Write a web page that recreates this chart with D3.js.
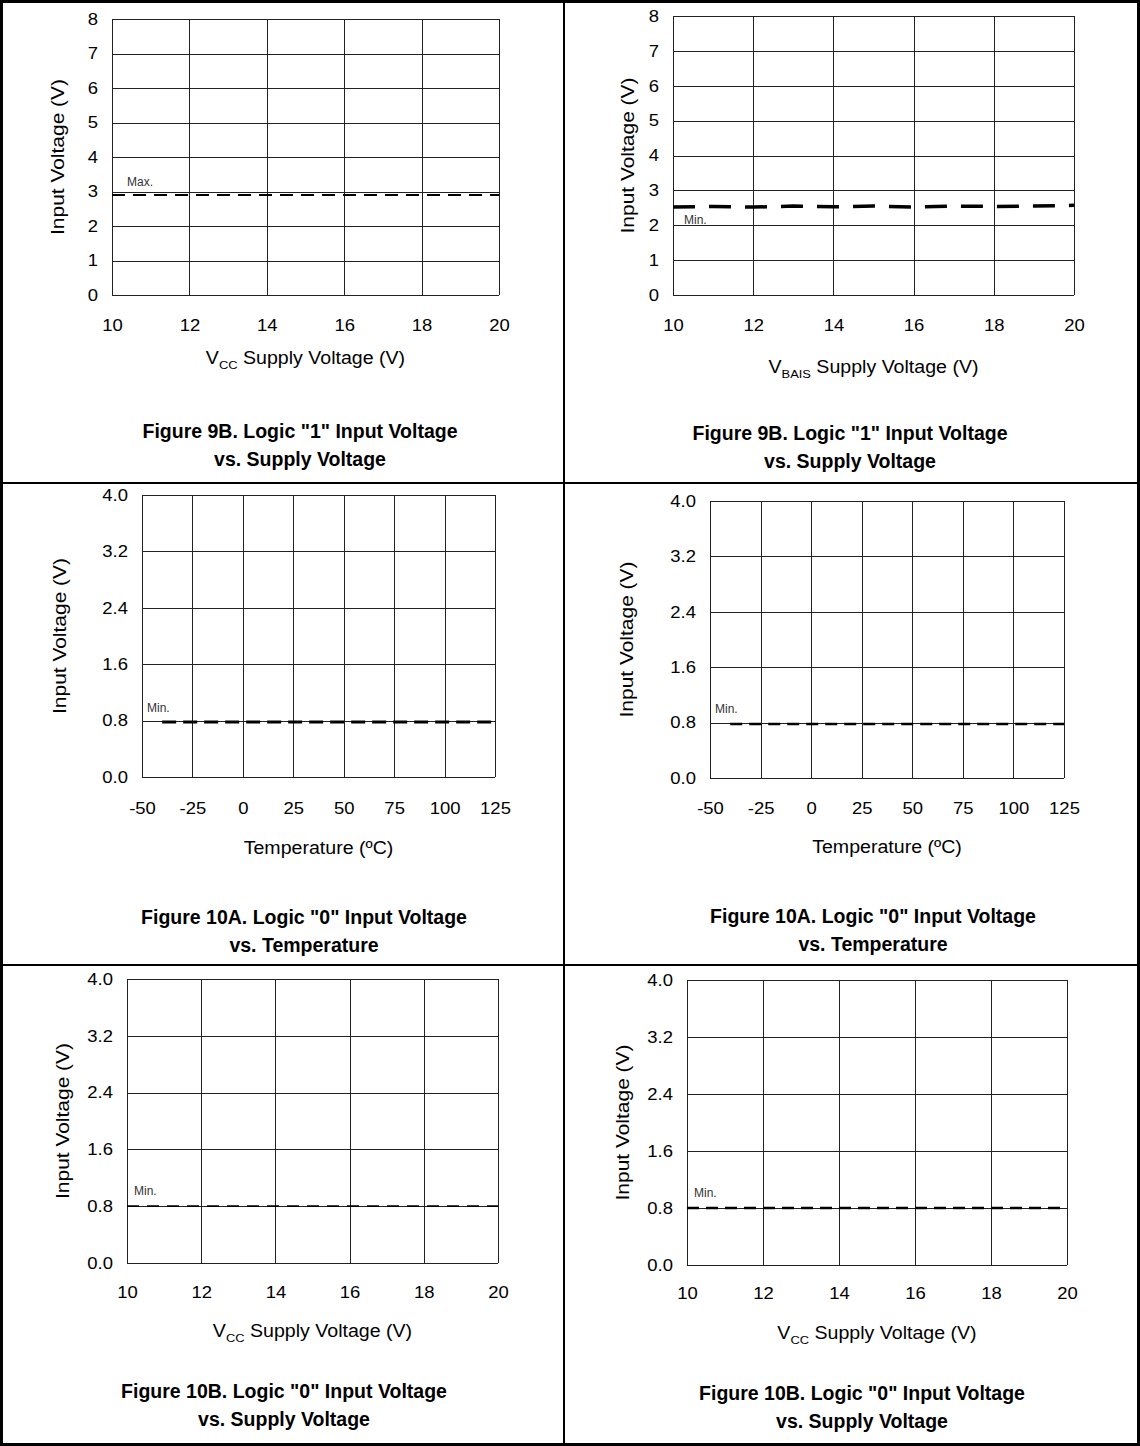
<!DOCTYPE html>
<html>
<head>
<meta charset="utf-8">
<script src="https://cdn.jsdelivr.net/npm/d3@7"></script>
<style>
  html, body { margin: 0; padding: 0; background: #fff; }
  svg { display: block; }
</style>
</head>
<body>
<svg id="chart" width="1140" height="1446"></svg>
<script>
// ---------- data ----------
const yTicks8 = [0, 1, 2, 3, 4, 5, 6, 7, 8];
const yTicks4 = [0, 0.8, 1.6, 2.4, 3.2, 4.0];
const xTicksSupply = [10, 12, 14, 16, 18, 20];
const xTicksTemp = [-50, -25, 0, 25, 50, 75, 100, 125];

// Figure 9B (left) : Logic "1" max vs VCC
const fig9BLeftX = [10, 12, 14, 16, 18, 20];
const fig9BLeftY = [2.9, 2.9, 2.9, 2.9, 2.9, 2.9];
// Figure 9B (right) : Logic "1" min vs VBAIS
const fig9BRightX = [10, 11, 12, 13, 14, 15, 16, 17, 18, 19, 20];
const fig9BRightY = [2.52, 2.54, 2.52, 2.55, 2.53, 2.55, 2.52, 2.55, 2.54, 2.55, 2.57];
// Figure 10A : Logic "0" min vs temperature
const fig10ALeftX = [-40, -25, 0, 25, 50, 75, 100, 125];
const fig10ALeftY = [0.78, 0.78, 0.78, 0.78, 0.78, 0.78, 0.78, 0.78];
const fig10ARightX = [-40, -25, 0, 25, 50, 75, 100, 125];
const fig10ARightY = [0.78, 0.78, 0.78, 0.78, 0.78, 0.78, 0.78, 0.78];
// Figure 10B : Logic "0" min vs VCC
const fig10BLeftX = [10, 12, 14, 16, 18, 20];
const fig10BLeftY = [0.8, 0.8, 0.8, 0.8, 0.8, 0.8];
const fig10BRightX = [10, 12, 14, 16, 18, 20];
const fig10BRightY = [0.8, 0.8, 0.8, 0.8, 0.8, 0.8];

const captions9BLeft = ['Figure 9B. Logic "1" Input Voltage', 'vs. Supply Voltage'];
const captions9BRight = ['Figure 9B.  Logic "1" Input Voltage', 'vs. Supply Voltage'];
const captions10A = ['Figure 10A. Logic "0" Input Voltage', 'vs. Temperature'];
const captions10B = ['Figure 10B. Logic "0" Input Voltage', 'vs. Supply Voltage'];

const yTitle = "Input Voltage (V)";

// ---------- layout ----------
const panels = [
  { px: [112, 499], py: [19, 295], yDom: [0, 8], yTicks: yTicks8, yFmt: d3.format("d"),
    xDom: [10, 20], xTicks: xTicksSupply, xs: fig9BLeftX, ys: fig9BLeftY,
    dash: "13,8", sw: 2, label: "Max.", labelPos: [127, 186],
    xTitle: ["V", "CC", " Supply Voltage (V)"], xTitleY: 364, xTickY: 325, yTitleX: 58,
    caption: captions9BLeft, capX: 300, capY: [438, 466] },
  { px: [673, 1074], py: [16, 295], yDom: [0, 8], yTicks: yTicks8, yFmt: d3.format("d"),
    xDom: [10, 20], xTicks: xTicksSupply, xs: fig9BRightX, ys: fig9BRightY,
    dash: "22,14", sw: 3.5, label: "Min.", labelPos: [684, 224],
    xTitle: ["V", "BAIS", " Supply Voltage (V)"], xTitleY: 373, xTickY: 325, yTitleX: 628,
    caption: captions9BRight, capX: 850, capY: [440, 468] },
  { px: [142, 495], py: [495, 777], yDom: [0, 4], yTicks: yTicks4, yFmt: d3.format(".1f"),
    xDom: [-50, 125], xTicks: xTicksTemp, xs: fig10ALeftX, ys: fig10ALeftY,
    dash: "14,7", sw: 3, label: "Min.", labelPos: [147, 712],
    xTitle: ["Temperature (ºC)"], xTitleY: 854, xTickY: 808, yTitleX: 60,
    caption: captions10A, capX: 304, capY: [924, 952] },
  { px: [710, 1064], py: [501, 778], yDom: [0, 4], yTicks: yTicks4, yFmt: d3.format(".1f"),
    xDom: [-50, 125], xTicks: xTicksTemp, xs: fig10ARightX, ys: fig10ARightY,
    dash: "12,7", sw: 2.6, label: "Min.", labelPos: [715, 713],
    xTitle: ["Temperature (ºC)"], xTitleY: 853, xTickY: 808, yTitleX: 627,
    caption: captions10A, capX: 873, capY: [923, 951] },
  { px: [127, 498], py: [979, 1263], yDom: [0, 4], yTicks: yTicks4, yFmt: d3.format(".1f"),
    xDom: [10, 20], xTicks: xTicksSupply, xs: fig10BLeftX, ys: fig10BLeftY,
    dash: "12,8", sw: 1.8, label: "Min.", labelPos: [134, 1195],
    xTitle: ["V", "CC", " Supply Voltage (V)"], xTitleY: 1337, xTickY: 1292, yTitleX: 63,
    caption: captions10B, capX: 284, capY: [1398, 1426] },
  { px: [687, 1067], py: [980, 1265], yDom: [0, 4], yTicks: yTicks4, yFmt: d3.format(".1f"),
    xDom: [10, 20], xTicks: xTicksSupply, xs: fig10BRightX, ys: fig10BRightY,
    dash: "12,7", sw: 2.6, label: "Min.", labelPos: [694, 1197],
    xTitle: ["V", "CC", " Supply Voltage (V)"], xTitleY: 1339, xTickY: 1293, yTitleX: 623,
    caption: captions10B, capX: 862, capY: [1400, 1428] }
];

const svg = d3.select("#chart");

// table frame
svg.append("rect").attr("x", 1.5).attr("y", 1.5).attr("width", 1137).attr("height", 1443)
  .attr("fill", "none").attr("stroke", "#000").attr("stroke-width", 3);
[483, 965].forEach(y => svg.append("line").attr("x1", 0).attr("x2", 1140).attr("y1", y).attr("y2", y)
  .attr("stroke", "#000").attr("stroke-width", 2));
svg.append("line").attr("x1", 564).attr("x2", 564).attr("y1", 0).attr("y2", 1446)
  .attr("stroke", "#000").attr("stroke-width", 2);

const sans = '"Liberation Sans", Arial, sans-serif';
const narrow = '"Liberation Sans Narrow", "Arial Narrow", "Liberation Sans", sans-serif';
const stretch = 1.12;
const hyphenFmt = f => d => f(d).replace("\u2212", "-");

panels.forEach(p => {
  const x = d3.scaleLinear().domain(p.xDom).range(p.px);
  const y = d3.scaleLinear().domain(p.yDom).range([p.py[1], p.py[0]]);
  const g = svg.append("g");

  // grid
  g.append("g").selectAll("line").data(p.yTicks).join("line")
    .attr("x1", p.px[0]).attr("x2", p.px[1])
    .attr("y1", d => Math.round(y(d)) + 0.5).attr("y2", d => Math.round(y(d)) + 0.5)
    .attr("stroke", "#222").attr("stroke-width", 1);
  g.append("g").selectAll("line").data(p.xTicks).join("line")
    .attr("y1", p.py[0]).attr("y2", p.py[1])
    .attr("x1", d => Math.round(x(d)) + 0.5).attr("x2", d => Math.round(x(d)) + 0.5)
    .attr("stroke", "#222").attr("stroke-width", 1);

  // y axis labels
  const yAxis = d3.axisLeft(y).tickValues(p.yTicks).tickFormat(p.yFmt).tickSize(0).tickPadding(0);
  const ya = g.append("g").attr("transform", `translate(${p.px[0] - 14},0)`).call(yAxis);
  ya.select(".domain").remove();
  ya.selectAll("text").attr("font-size", 16.5).attr("fill", "#000").attr("font-family", sans)
    .attr("x", 0).attr("transform", `scale(${stretch},1)`);

  // x axis labels
  const xAxis = d3.axisBottom(x).tickValues(p.xTicks).tickFormat(hyphenFmt(d3.format("d"))).tickSize(0).tickPadding(0);
  const xa = g.append("g").attr("transform", `translate(0,${p.xTickY})`).call(xAxis);
  xa.select(".domain").remove();
  xa.selectAll("text").attr("font-size", 16.5).attr("fill", "#000").attr("font-family", sans)
    .attr("y", 0).attr("dy", "0.35em").attr("transform", `scale(${stretch},1)`);

  // data line
  const line = d3.line().x(d => x(d[0])).y(d => y(d[1]));
  g.append("path").datum(p.xs.map((v, i) => [v, p.ys[i]]))
    .attr("d", line).attr("fill", "none").attr("stroke", "#000")
    .attr("stroke-width", p.sw).attr("stroke-dasharray", p.dash);

  // series label
  g.append("text").attr("x", p.labelPos[0]).attr("y", p.labelPos[1])
    .attr("font-size", 12).attr("font-family", sans).attr("fill", "#333").text(p.label);

  // y title
  g.append("text").attr("transform", `translate(${p.yTitleX},${(p.py[0] + p.py[1]) / 2}) rotate(-90)`)
    .attr("text-anchor", "middle").attr("dy", "0.35em")
    .attr("font-size", 18).attr("font-family", sans).attr("fill", "#000")
    .attr("textLength", 156).attr("lengthAdjust", "spacingAndGlyphs").text(yTitle);

  // x title
  const xt = g.append("g").attr("transform", `translate(${(p.px[0] + p.px[1]) / 2},${p.xTitleY}) scale(${stretch},1)`)
    .append("text").attr("text-anchor", "middle").attr("font-size", 17.5)
    .attr("font-family", sans).attr("fill", "#000");
  if (p.xTitle.length === 3) {
    xt.append("tspan").text(p.xTitle[0]);
    xt.append("tspan").attr("font-size", 11.5).attr("dy", 5).text(p.xTitle[1]);
    xt.append("tspan").attr("dy", -5).text(p.xTitle[2]);
  } else {
    xt.text(p.xTitle[0]);
  }

  // caption
  p.caption.forEach((c, i) => {
    g.append("text").attr("x", p.capX).attr("y", p.capY[i]).attr("text-anchor", "middle")
      .attr("font-size", 19.5).attr("font-weight", "bold").attr("font-family", narrow)
      .attr("fill", "#000").text(c);
  });
});
</script>
</body>
</html>
